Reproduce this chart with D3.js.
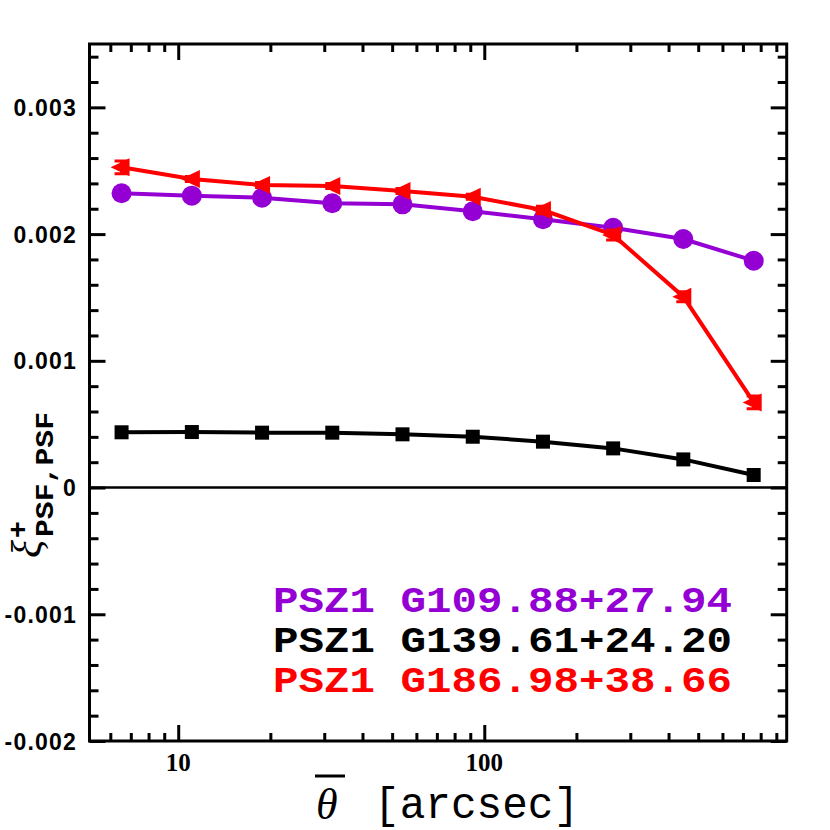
<!DOCTYPE html>
<html>
<head>
<meta charset="utf-8">
<script src="https://cdn.jsdelivr.net/npm/d3@7"></script>
<style>
  body { margin: 0; background: #fff; }
  svg { display: block; }
</style>
</head>
<body>
<div id="canvas"></div>
<script>
/* binned angular separations [arcsec] */
var theta = [6.53, 11.08, 18.79, 31.87, 54.05, 91.7, 155.5, 263.7, 447, 759];

/* xi+ PSF-PSF for the three clusters */
var xiG109 = [0.002322, 0.002303, 0.002287, 0.002243, 0.002235, 0.002180, 0.002117, 0.002050, 0.001961, 0.001790];
var xiG139 = [0.000436, 0.000438, 0.000433, 0.000433, 0.000420, 0.000401, 0.000362, 0.000309, 0.000222, 0.000099];
var xiG186 = [0.002527, 0.002435, 0.002388, 0.002380, 0.002340, 0.002295, 0.002190, 0.001993, 0.001506, 0.000672];
var errG186 = [0.00005, 0.00002, 0.00002, 0.00002, 0.00002, 0.00002, 0.00003, 0.00004, 0.00004, 0.00005];

var legendNames = ['PSZ1 G109.88+27.94', 'PSZ1 G139.61+24.20', 'PSZ1 G186.98+38.66'];
var legendColors = ['#9400d3', '#000000', '#ff0000'];

var yMajor = [-0.002, -0.001, 0, 0.001, 0.002, 0.003];
var yMajorLabels = ['-0.002', '-0.001', '0', '0.001', '0.002', '0.003'];
var xMajor = [10, 100];
var xMajorLabels = ['10', '100'];

var width = 830, height = 830;
var frame = {l: 89.5, r: 786.7, t: 44, b: 741};

var svg = d3.select('#canvas')
	.append('svg')
	.attr('width', width)
	.attr('height', height);

var x = d3.scaleLog()
	.domain([5.13, 973])
	.range([frame.l, frame.r]);

var y = d3.scaleLinear()
	.domain([-0.002, 0.0035])
	.range([frame.b, frame.t]);

// minor tick positions
var xMinor = [];
[1, 10, 100].forEach(function(dec){
	for (var k = 2; k <= 9; k++) {
		var v = k * dec;
		if (v > 5.13 && v < 973 && xMajor.indexOf(v) < 0) xMinor.push(v);
	}
});
var yMinor = d3.range(-20, 36, 2).map(function(d){ return d / 10000; })
	.filter(function(v){ return Math.abs(v * 1000 - Math.round(v * 1000)) > 1e-6; });

function tickAxis(axis, values, size) {
	return axis.tickValues(values).tickSize(size).tickSizeOuter(0).tickFormat('');
}

var axes = [
	[d3.axisBottom(x), xMajor, -16, frame.b, 'x'],
	[d3.axisBottom(x), xMinor, -8, frame.b, 'x'],
	[d3.axisTop(x), xMajor, -16, frame.t, 'x'],
	[d3.axisTop(x), xMinor, -8, frame.t, 'x'],
	[d3.axisLeft(y), yMajor, -16, frame.l, 'y'],
	[d3.axisLeft(y), yMinor, -9, frame.l, 'y'],
	[d3.axisRight(y), yMajor, -16, frame.r, 'y'],
	[d3.axisRight(y), yMinor, -9, frame.r, 'y']
];

axes.forEach(function(a){
	var g = svg.append('g')
		.attr('transform', a[4] === 'x' ? 'translate(0,' + a[3] + ')' : 'translate(' + a[3] + ',0)')
		.call(tickAxis(a[0], a[1], a[2]));
	g.select('.domain').remove();
	g.selectAll('line').style('stroke', '#000').style('stroke-width', '3px');
});

// zero line
svg.append('line')
	.attr('x1', frame.l).attr('x2', frame.r)
	.attr('y1', y(0)).attr('y2', y(0))
	.style('stroke', '#000')
	.style('stroke-width', '2.5px');

// frame
svg.append('rect')
	.attr('x', frame.l).attr('y', frame.t)
	.attr('width', frame.r - frame.l)
	.attr('height', frame.b - frame.t)
	.style('fill', 'none')
	.style('stroke', '#000')
	.style('stroke-width', '3px');

// tick labels
svg.selectAll('.ylab')
	.data(yMajor)
	.enter()
	.append('text')
	.attr('class', 'ylab')
	.attr('x', 77)
	.attr('y', function(d){ return y(d) + 8.5; })
	.attr('text-anchor', 'end')
	.style('font-family', 'Liberation Sans, Arial, sans-serif')
	.style('font-weight', 'bold')
	.style('font-size', '23px')
	.style('letter-spacing', '1.2px')
	.text(function(d, i){ return yMajorLabels[i]; });

svg.selectAll('.xlab')
	.data(xMajor)
	.enter()
	.append('text')
	.attr('class', 'xlab')
	.attr('x', function(d){ return x(d); })
	.attr('y', 771)
	.attr('text-anchor', 'middle')
	.style('font-family', 'Liberation Serif, serif')
	.style('font-weight', 'bold')
	.style('font-size', '25px')
	.text(function(d, i){ return xMajorLabels[i]; });

// data lines
var line = d3.line()
	.x(function(d){ return x(d[0]); })
	.y(function(d){ return y(d[1]); });

function pairs(vals) {
	return theta.map(function(t, i){ return [t, vals[i]]; });
}

svg.append('path')
	.datum(pairs(xiG139))
	.attr('d', line)
	.style('fill', 'none')
	.style('stroke', legendColors[1])
	.style('stroke-width', '4px');

svg.selectAll('.sq')
	.data(pairs(xiG139))
	.enter()
	.append('rect')
	.attr('class', 'sq')
	.attr('x', function(d){ return x(d[0]) - 7; })
	.attr('y', function(d){ return y(d[1]) - 7; })
	.attr('width', 14)
	.attr('height', 14)
	.style('fill', legendColors[1]);

svg.append('path')
	.datum(pairs(xiG109))
	.attr('d', line)
	.style('fill', 'none')
	.style('stroke', legendColors[0])
	.style('stroke-width', '4px');

svg.selectAll('.dot')
	.data(pairs(xiG109))
	.enter()
	.append('circle')
	.attr('class', 'dot')
	.attr('cx', function(d){ return x(d[0]); })
	.attr('cy', function(d){ return y(d[1]); })
	.attr('r', 10)
	.style('fill', legendColors[0]);

svg.append('path')
	.datum(pairs(xiG186))
	.attr('d', line)
	.style('fill', 'none')
	.style('stroke', legendColors[2])
	.style('stroke-width', '4px');

var redPts = svg.selectAll('.tri')
	.data(theta.map(function(t, i){ return {t: t, v: xiG186[i], e: errG186[i]}; }))
	.enter()
	.append('g')
	.attr('class', 'tri')
	.attr('transform', function(d){ return 'translate(' + x(d.t) + ',' + y(d.v) + ')'; });

redPts.append('path')
	.attr('d', 'M-11,0L8,-9L8,9Z')
	.style('fill', legendColors[2]);

redPts.append('path')
	.attr('d', function(d){
		var h = y(0) - y(d.e);
		return 'M0,' + (-h) + 'V' + h + 'M-7,' + (-h) + 'H7M-7,' + h + 'H7';
	})
	.style('fill', 'none')
	.style('stroke', legendColors[2])
	.style('stroke-width', '3px');

// legend
svg.selectAll('.leg')
	.data(legendNames)
	.enter()
	.append('text')
	.attr('class', 'leg')
	.attr('x', 273)
	.attr('y', function(d, i){ return 612 + i * 40; })
	.attr('textLength', 459)
	.attr('lengthAdjust', 'spacingAndGlyphs')
	.style('font-family', 'Liberation Mono, monospace')
	.style('font-weight', 'bold')
	.style('font-size', '37px')
	.style('fill', function(d, i){ return legendColors[i]; })
	.text(function(d){ return d; });

// x axis title
svg.append('text')
	.attr('x', 316)
	.attr('y', 819)
	.style('font-family', 'Liberation Serif, serif')
	.style('font-style', 'italic')
	.style('font-size', '44px')
	.text('\u03b8');

svg.append('line')
	.attr('x1', 315).attr('x2', 345)
	.attr('y1', 776).attr('y2', 776)
	.style('stroke', '#000')
	.style('stroke-width', '3px');

svg.append('text')
	.attr('x', 374)
	.attr('y', 818)
	.attr('textLength', 205)
	.attr('lengthAdjust', 'spacingAndGlyphs')
	.style('font-family', 'Liberation Mono, monospace')
	.style('font-size', '44px')
	.text('[arcsec]');

// y axis title, rotated
var yt = svg.append('g')
	.attr('transform', 'rotate(-90)');

yt.append('text')
	.attr('x', -558)
	.attr('y', 41)
	.style('font-family', 'Liberation Serif, serif')
	.style('font-style', 'italic')
	.style('font-size', '42px')
	.text('\u03be');

yt.append('text')
	.attr('x', -538)
	.attr('y', 27)
	.style('font-family', 'Liberation Mono, monospace')
	.style('font-weight', 'bold')
	.style('font-size', '28px')
	.text('+');

yt.append('text')
	.attr('x', -537)
	.attr('y', 53)
	.attr('textLength', 125)
	.attr('lengthAdjust', 'spacingAndGlyphs')
	.style('font-family', 'Liberation Mono, monospace')
	.style('font-weight', 'bold')
	.style('font-size', '26px')
	.text('PSF,PSF');
</script>
</body>
</html>
